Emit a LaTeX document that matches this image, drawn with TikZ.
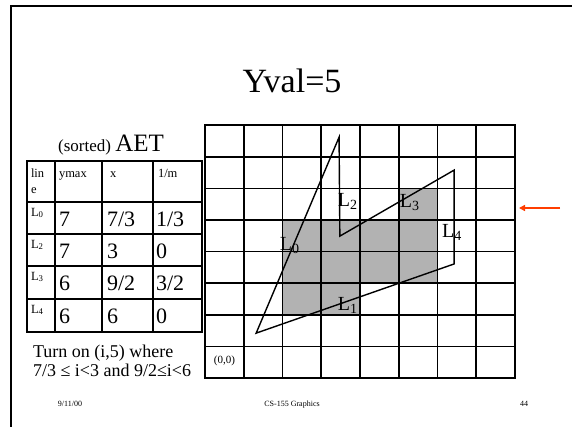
\documentclass[tikz,border=0pt]{standalone}
\usepackage{fontspec}
\setmainfont{Liberation Serif}
\usetikzlibrary{arrows.meta}
\definecolor{cellgray}{gray}{0.70}
\definecolor{pointerred}{rgb}{1.0, 0.24, 0.0}

\begin{document}
\begin{tikzpicture}[
    x=1pt, y=-1pt,
    every node/.style={inner sep=0pt, outer sep=0pt},
    frame/.style   ={line width=2pt, line cap=rect},
    gridline/.style={line width=1.6pt, line cap=rect},
    tabline/.style ={line width=1.6pt, line cap=rect},
    edge/.style    ={line width=1.4pt, line join=miter},
    lbl/.style     ={font=\fontsize{20}{20}\selectfont, anchor=base west},
    head/.style    ={font=\fontsize{12.5}{16}\selectfont, anchor=base west},
    big/.style     ={font=\fontsize{22}{22}\selectfont, anchor=base west},
    note/.style    ={font=\fontsize{18}{18}\selectfont, anchor=base west},
    foot/.style    ={font=\fontsize{8}{8}\selectfont, anchor=base}
]
\useasboundingbox (0,0) rectangle (572,426);
% slide frame
\draw[frame] (11,426) -- (11,6) -- (572,6);
% title
\node[font=\fontsize{34}{34}\selectfont, anchor=base] (title) at (292,92) {Yval=5};

% pixel grid, one unit per pixel cell
\begin{scope}[shift={(205,378)}, x=38.75pt, y=31.6pt]
  % pixels turned on so far
  \foreach \i/\j in {2/2,3/2, 2/3,3/3,4/3,5/3, 2/4,3/4,4/4,5/4, 5/5}
    \fill[cellgray] (\i,\j) rectangle ++(1,1);
  \foreach \k in {0,...,8} {
    \draw[gridline] (\k,0) -- (\k,8);
    \draw[gridline] (0,\k) -- (8,\k);
  }
  % polygon corners
  \coordinate (v0) at (1.32,1.42);
  \coordinate (v1) at (3.46,7.62);
  \coordinate (v2) at (3.48,4.49);
  \coordinate (v3) at (6.43,6.58);
  \coordinate (v4) at (6.43,3.61);
  \draw[edge] (v0) -- (v1) -- (v2) -- (v3) -- (v4) -- cycle;
  % edge labels
  \node[lbl] (l0) at (1.93,4.05) {L\textsubscript{0}};
  \node[lbl] (l1) at (3.43,2.13) {L\textsubscript{1}};
  \node[lbl] (l2) at (3.43,5.43) {L\textsubscript{2}};
  \node[lbl] (l3) at (5.03,5.40) {L\textsubscript{3}};
  \node[lbl] (l4) at (6.12,4.45) {L\textsubscript{4}};
  \node[font=\fontsize{11}{11}\selectfont] (origin) at (0.5,0.55) {(0,0)};
\end{scope}

% active edge table
\node[anchor=base] (aet) at (111,151) {\fontsize{17}{17}\selectfont(sorted) \fontsize{25}{25}\selectfont AET};
\draw[tabline] (27,161) rectangle (202,332);
\foreach \y in {202,234,266,299} \draw[tabline] (27,\y) -- (202,\y);
\foreach \x in {55,102,153} \draw[tabline] (\x,161) -- (\x,332);
% header row
\node[head] (hlin)  at (31,177) {lin};
\node[head] (hlinb) at (31,193) {e};
\node[head] (hymax) at (59,177) {ymax};
\node[head] (hx)    at (110,177) {x};
\node[head] (hm)    at (158,177) {1/m};
% rows
\node[head] (r0) at (31,216) {L\textsubscript{0}};
\node[big]  (r0y) at (59,226) {7};
\node[big]  (r0x) at (107,226) {7/3};
\node[big]  (r0m) at (156,226) {1/3};
\node[head] (r2) at (31,248) {L\textsubscript{2}};
\node[big]  (r2y) at (59,258) {7};
\node[big]  (r2x) at (107,258) {3};
\node[big]  (r2m) at (156,258) {0};
\node[head] (r3) at (31,280) {L\textsubscript{3}};
\node[big]  (r3y) at (59,290) {6};
\node[big]  (r3x) at (107,290) {9/2};
\node[big]  (r3m) at (156,290) {3/2};
\node[head] (r4) at (31,313) {L\textsubscript{4}};
\node[big]  (r4y) at (59,323) {6};
\node[big]  (r4x) at (107,323) {6};
\node[big]  (r4m) at (156,323) {0};

% note under table
\node[note] (note1) at (33,357) {Turn on (i,5) where};
\node[note] (note2) at (33,376) {7/3 ≤ i<3 and 9/2≤i<6};

% scan line pointer
\coordinate (ptail) at (560,208);
\coordinate (phead) at (519,208);
\draw[pointerred, line width=1.4pt, -{Triangle[length=6pt, width=6pt]}] (ptail) -- (phead);

% footer
\node[foot] (date)  at (70,406) {9/11/00};
\node[foot] (course) at (292,406) {CS-155 Graphics};
\node[foot] (page)  at (524,406) {44};
\end{tikzpicture}
\end{document}
